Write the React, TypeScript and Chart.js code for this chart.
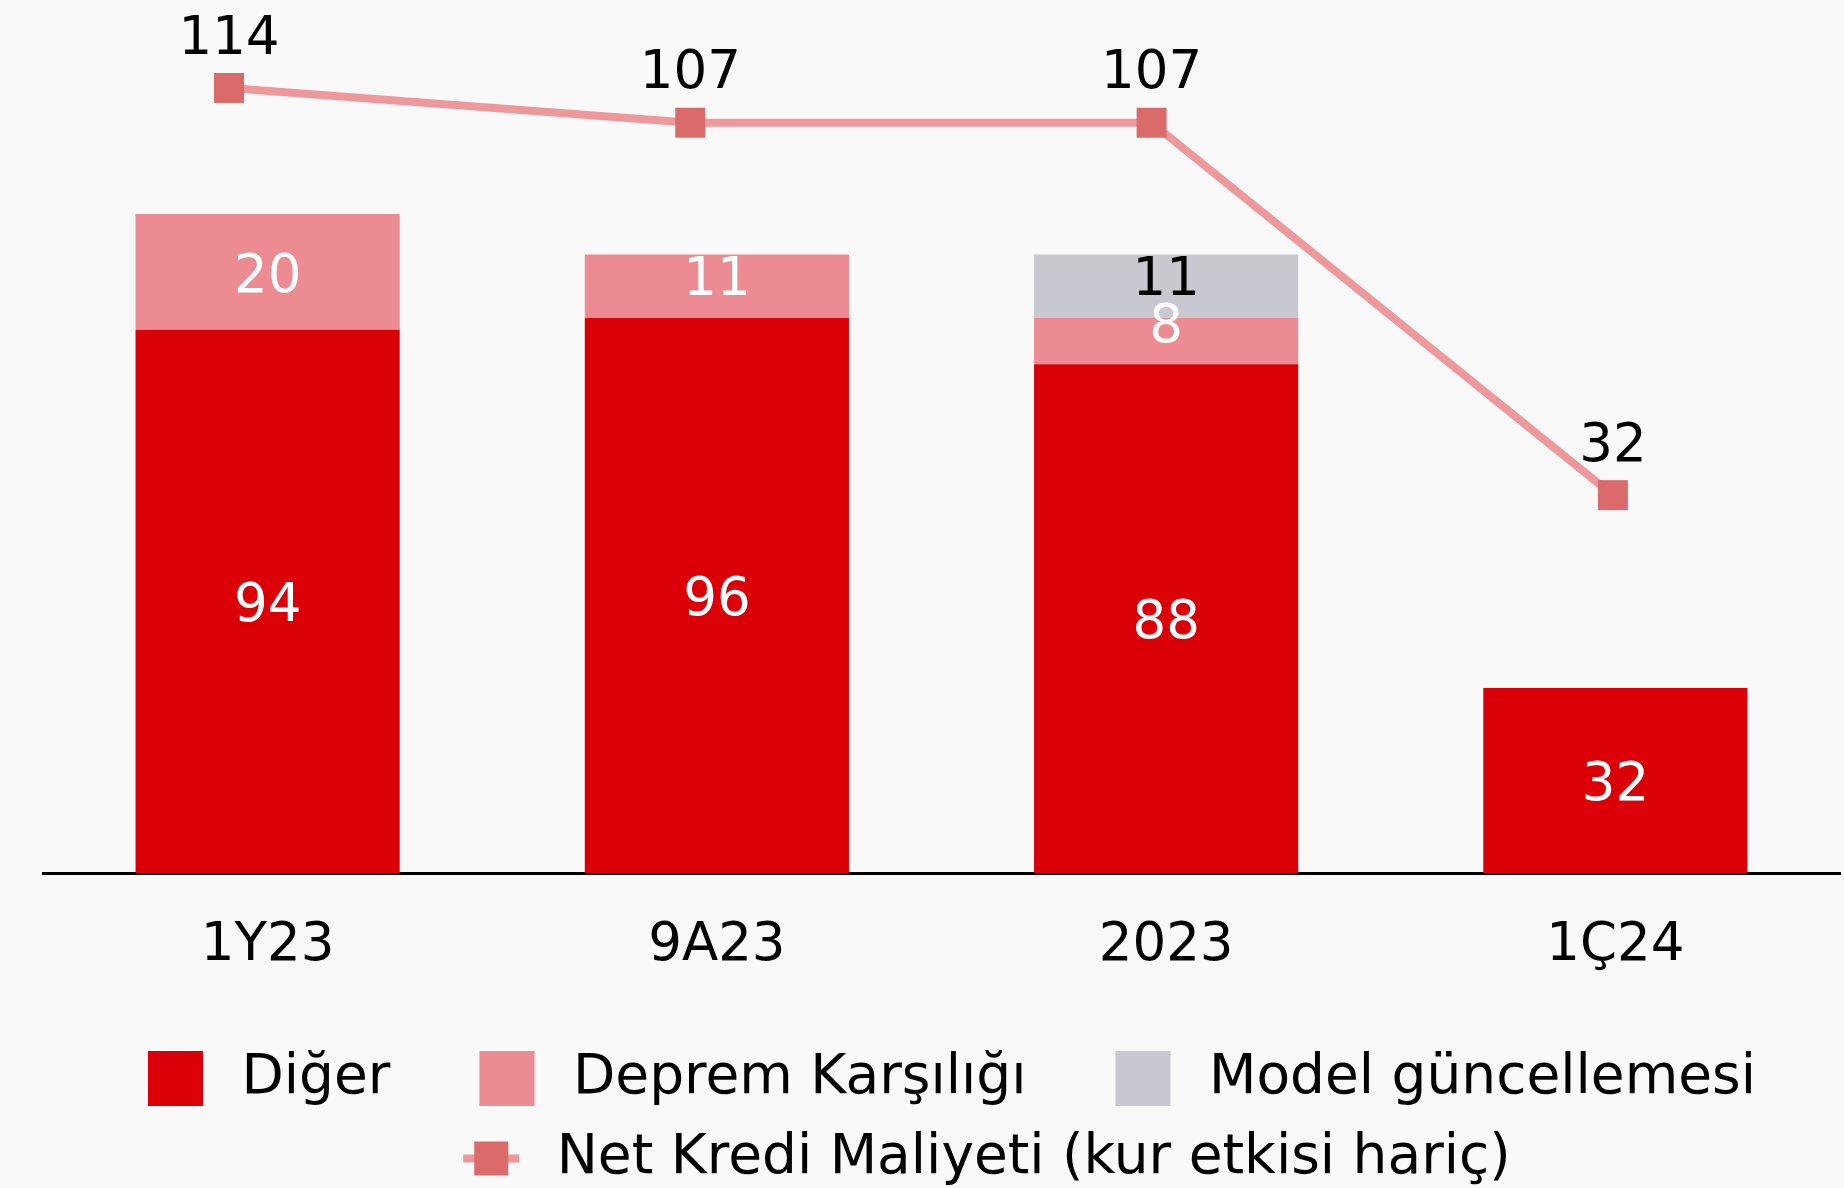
import React, { useEffect, useRef } from 'react';
import { Chart, registerables } from 'chart.js';

Chart.register(...registerables);

// ---- data ----
const categories = ['1Y23', '9A23', '2023', '1Ç24'];
const digerValues = [94, 96, 88, 32];
const depremValues = [20, 11, 8, null];
const modelValues = [null, null, 11, null];
const netKrediValues = [114, 107, 107, 32];
const seriesNames = ['Diğer', 'Deprem Karşılığı', 'Model güncellemesi', 'Net Kredi Maliyeti (kur etkisi hariç)'];

// ---- style ----
const BG = '#F9F9F9';
const C_DIGER = '#DB0007';
const C_DEPREM = '#EC8B91';
const C_MODEL = '#C8C8D0';
const C_LINE = '#EE989B';
const C_MARKER = '#DB6B6B';
const FONT = '"DejaVu Sans", sans-serif';
const LEGEND_LEAD = '    ';

function boxImage(color: string) {
  const c = document.createElement('canvas');
  c.width = 130;
  c.height = 55;
  const g = c.getContext('2d')!;
  g.fillStyle = color;
  g.fillRect(64, 0, 55, 55);
  return c;
}

function lineImage() {
  const c = document.createElement('canvas');
  c.width = 330;
  c.height = 55;
  const g = c.getContext('2d')!;
  g.fillStyle = C_LINE;
  g.fillRect(234, 23.5, 56, 8);
  g.fillStyle = C_MARKER;
  g.fillRect(245, 10.5, 34, 34);
  return c;
}

const valueLabels = {
  id: 'valueLabels',
  afterDatasetsDraw(chart: any) {
    const ctx = chart.ctx;
    ctx.save();
    ctx.font = `53px ${FONT}`;
    ctx.textAlign = 'center';
    ctx.textBaseline = 'middle';
    chart.data.datasets.forEach((ds: any, di: number) => {
      const meta = chart.getDatasetMeta(di);
      meta.data.forEach((el: any, i: number) => {
        const raw = ds.data[i];
        const v = raw && typeof raw === 'object' ? raw.y : raw;
        if (v === null || v === undefined) return;
        if (ds.type === 'line') {
          ctx.fillStyle = '#000';
          ctx.fillText(String(v), el.x, el.y - 48);
        } else {
          const h = Math.abs(el.base - el.y);
          let y = (el.y + el.base) / 2 + 6;
          if (h < 70) y -= 10.5 + Math.max(0, 64 - h) * 0.5;
          ctx.fillStyle = ds.labelColor || '#fff';
          ctx.fillText(String(v), el.x, y);
        }
      });
    });
    ctx.restore();
  },
};

export default function App() {
  const ref = useRef<HTMLCanvasElement | null>(null);

  useEffect(() => {
    if (!ref.current) return;
    const imgs = [boxImage(C_DIGER), boxImage(C_DEPREM), boxImage(C_MODEL), lineImage()];
    const fills = [C_DIGER, C_DEPREM, C_MODEL, C_MARKER];
    const chart = new Chart(ref.current, {
      type: 'bar',
      data: {
        labels: categories,
        datasets: [
          {
            type: 'line',
            label: seriesNames[3],
            data: netKrediValues.map((v, i) => ({ x: i, y: v })),
            xAxisID: 'x2',
            yAxisID: 'y1',
            borderColor: C_LINE,
            borderWidth: 8,
            pointStyle: 'rect',
            pointRadius: 21.2,
            pointBackgroundColor: C_MARKER,
            pointBorderWidth: 0,
            pointBorderColor: C_MARKER,
            tension: 0,
            order: 0,
            clip: false,
          } as any,
          {
            label: seriesNames[0],
            data: digerValues,
            backgroundColor: C_DIGER,
            order: 1,
            labelColor: '#fff',
          } as any,
          {
            label: seriesNames[1],
            data: depremValues,
            backgroundColor: C_DEPREM,
            order: 1,
            labelColor: '#fff',
          } as any,
          {
            label: seriesNames[2],
            data: modelValues,
            backgroundColor: C_MODEL,
            order: 1,
            labelColor: '#000',
          } as any,
        ],
      },
      options: {
        responsive: false,
        animation: false,
        events: [],
        datasets: {
          bar: { categoryPercentage: 1, barPercentage: 0.588, borderWidth: 0, grouped: false },
        },
        layout: { autoPadding: false, padding: { top: 10, right: 4, bottom: -8, left: 0 } },
        plugins: {
          tooltip: { enabled: false },
          title: { display: false },
          legend: {
            display: true,
            position: 'bottom',
            labels: {
              usePointStyle: true,
              pointStyleWidth: 130,
              boxHeight: 54,
              padding: 25,
              color: '#000',
              font: { family: FONT, size: 55 },
              generateLabels: () =>
                seriesNames.map((t, i) => ({
                  text: i === 3 ? LEGEND_LEAD + t : t,
                  pointStyle: imgs[i] as any,
                  fillStyle: fills[i],
                  strokeStyle: 'transparent',
                  lineWidth: 0,
                  hidden: false,
                  datasetIndex: i,
                  fontColor: '#000',
                })),
            },
          },
        },
        scales: {
          x: {
            stacked: true,
            grid: { display: false, drawTicks: false },
            border: { display: true, color: '#000', width: 3 },
            ticks: { color: '#000', font: { family: FONT, size: 53 }, padding: 41 },
            afterFit: (s: any) => {
              s.height = 153;
            },
          },
          y: {
            stacked: true,
            min: 0,
            max: 149.3,
            grid: { display: false },
            border: { display: false },
            ticks: { display: false },
            afterFit: (s: any) => {
              s.width = 43;
            },
          },
          y1: { display: false, min: -44.1, max: 129.7, stacked: false },
          x2: { type: 'linear', display: false, offset: false, min: -0.4032, max: 3.4923 },
        } as any,
      },
      plugins: [valueLabels],
    });
    return () => chart.destroy();
  }, []);

  return (
    <div style={{ position: 'fixed', left: 0, top: 0, width: 1844, height: 1188, background: BG }}>
      <canvas ref={ref} width={1844} height={1188} style={{ display: 'block' }} />
    </div>
  );
}
